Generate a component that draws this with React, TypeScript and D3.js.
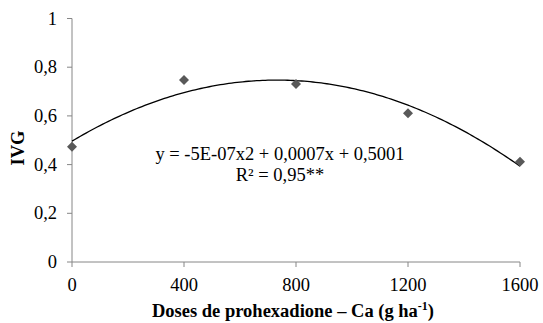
import React from "react";
import * as d3 from "d3";

const doses = [0, 400, 800, 1200, 1600];
const ivg = [0.473, 0.747, 0.731, 0.611, 0.412];
const xTicks = [0, 400, 800, 1200, 1600];
const yTicks = [0, 0.2, 0.4, 0.6, 0.8, 1];
const equationText = "y = -5E-07x2 + 0,0007x + 0,5001";
const r2Text = "R² = 0,95**";

function fitQuadratic(xs: number[], ys: number[]) {
  const n = xs.length;
  const s = [0, 0, 0, 0, 0];
  const t = [0, 0, 0];
  for (let i = 0; i < n; i++) {
    const x = xs[i] / 1000;
    for (let k = 0; k <= 4; k++) s[k] += Math.pow(x, k);
    for (let k = 0; k <= 2; k++) t[k] += ys[i] * Math.pow(x, k);
  }
  const M = [
    [s[4], s[3], s[2], t[2]],
    [s[3], s[2], s[1], t[1]],
    [s[2], s[1], s[0], t[0]],
  ];
  for (let i = 0; i < 3; i++) {
    let p = i;
    for (let r = i + 1; r < 3; r++) if (Math.abs(M[r][i]) > Math.abs(M[p][i])) p = r;
    [M[i], M[p]] = [M[p], M[i]];
    for (let r = 0; r < 3; r++) {
      if (r === i) continue;
      const f = M[r][i] / M[i][i];
      for (let c = i; c < 4; c++) M[r][c] -= f * M[i][c];
    }
  }
  const a = M[0][3] / M[0][0];
  const b = M[1][3] / M[1][1];
  const c = M[2][3] / M[2][2];
  return (x: number) => a * (x / 1000) ** 2 + b * (x / 1000) + c;
}

export default function App() {
  const W = 543, H = 323;
  const x = d3.scaleLinear().domain([0, 1600]).range([72, 520]);
  const y = d3.scaleLinear().domain([0, 1]).range([262, 18.5]);
  const f = fitQuadratic(doses, ivg);
  const curvePts = d3.range(0, 1600.01, 10).map((v) => [x(v), y(f(v))] as [number, number]);
  const line = d3.line();
  const axisColor = "#868686";
  const font = "'Liberation Serif', 'Times New Roman', serif";
  const fs = 18.5;
  const fmt = (v: number) => (v === 0 || v === 1 ? String(v) : v.toFixed(1).replace(".", ","));
  const diamond = d3.symbol().type(d3.symbolDiamond2).size(64)();

  return (
    <svg width={W} height={H} style={{ position: "absolute", left: 0, top: 0 }} fontFamily={font}>
      <rect width={W} height={H} fill="#fff" />
      <line x1={x(0)} x2={x(0)} y1={y(0)} y2={y(1)} stroke={axisColor} strokeWidth={1} />
      {yTicks.map((t) => (
        <g key={"y" + t}>
          <line x1={x(0) - 5} x2={x(0)} y1={y(t)} y2={y(t)} stroke={axisColor} />
          <text x={x(0) - 15} y={y(t)} dy="0.33em" textAnchor="end" fontSize={fs} fill="#000">
            {fmt(t)}
          </text>
        </g>
      ))}
      <line x1={x(0)} x2={x(1600)} y1={y(0)} y2={y(0)} stroke={axisColor} strokeWidth={1} />
      {xTicks.map((t) => (
        <g key={"x" + t}>
          <line x1={x(t)} x2={x(t)} y1={y(0)} y2={y(0) + 5} stroke={axisColor} />
          <text x={x(t)} y={291} textAnchor="middle" fontSize={fs} fill="#000">
            {t}
          </text>
        </g>
      ))}
      <path d={line(curvePts) || ""} fill="none" stroke="#000" strokeWidth={1.3} />
      {doses.map((d, i) => (
        <path key={"p" + i} d={diamond || ""} transform={`translate(${x(d)},${y(ivg[i])})`} fill="#595959" />
      ))}
      <text x={280} y={160} textAnchor="middle" fontSize={fs} fill="#000">
        {equationText}
      </text>
      <text x={280} y={181} textAnchor="middle" fontSize={fs} fill="#000">
        {r2Text}
      </text>
      <text transform={`translate(24,148) rotate(-90)`} textAnchor="middle" fontSize={fs} fontWeight="bold" fill="#000">
        IVG
      </text>
      <text x={293} y={317} textAnchor="middle" fontSize={fs} fontWeight="bold" fill="#000">
        Doses de prohexadione – Ca (g ha
        <tspan baselineShift="super" fontSize={12}>-1</tspan>)
      </text>
    </svg>
  );
}
